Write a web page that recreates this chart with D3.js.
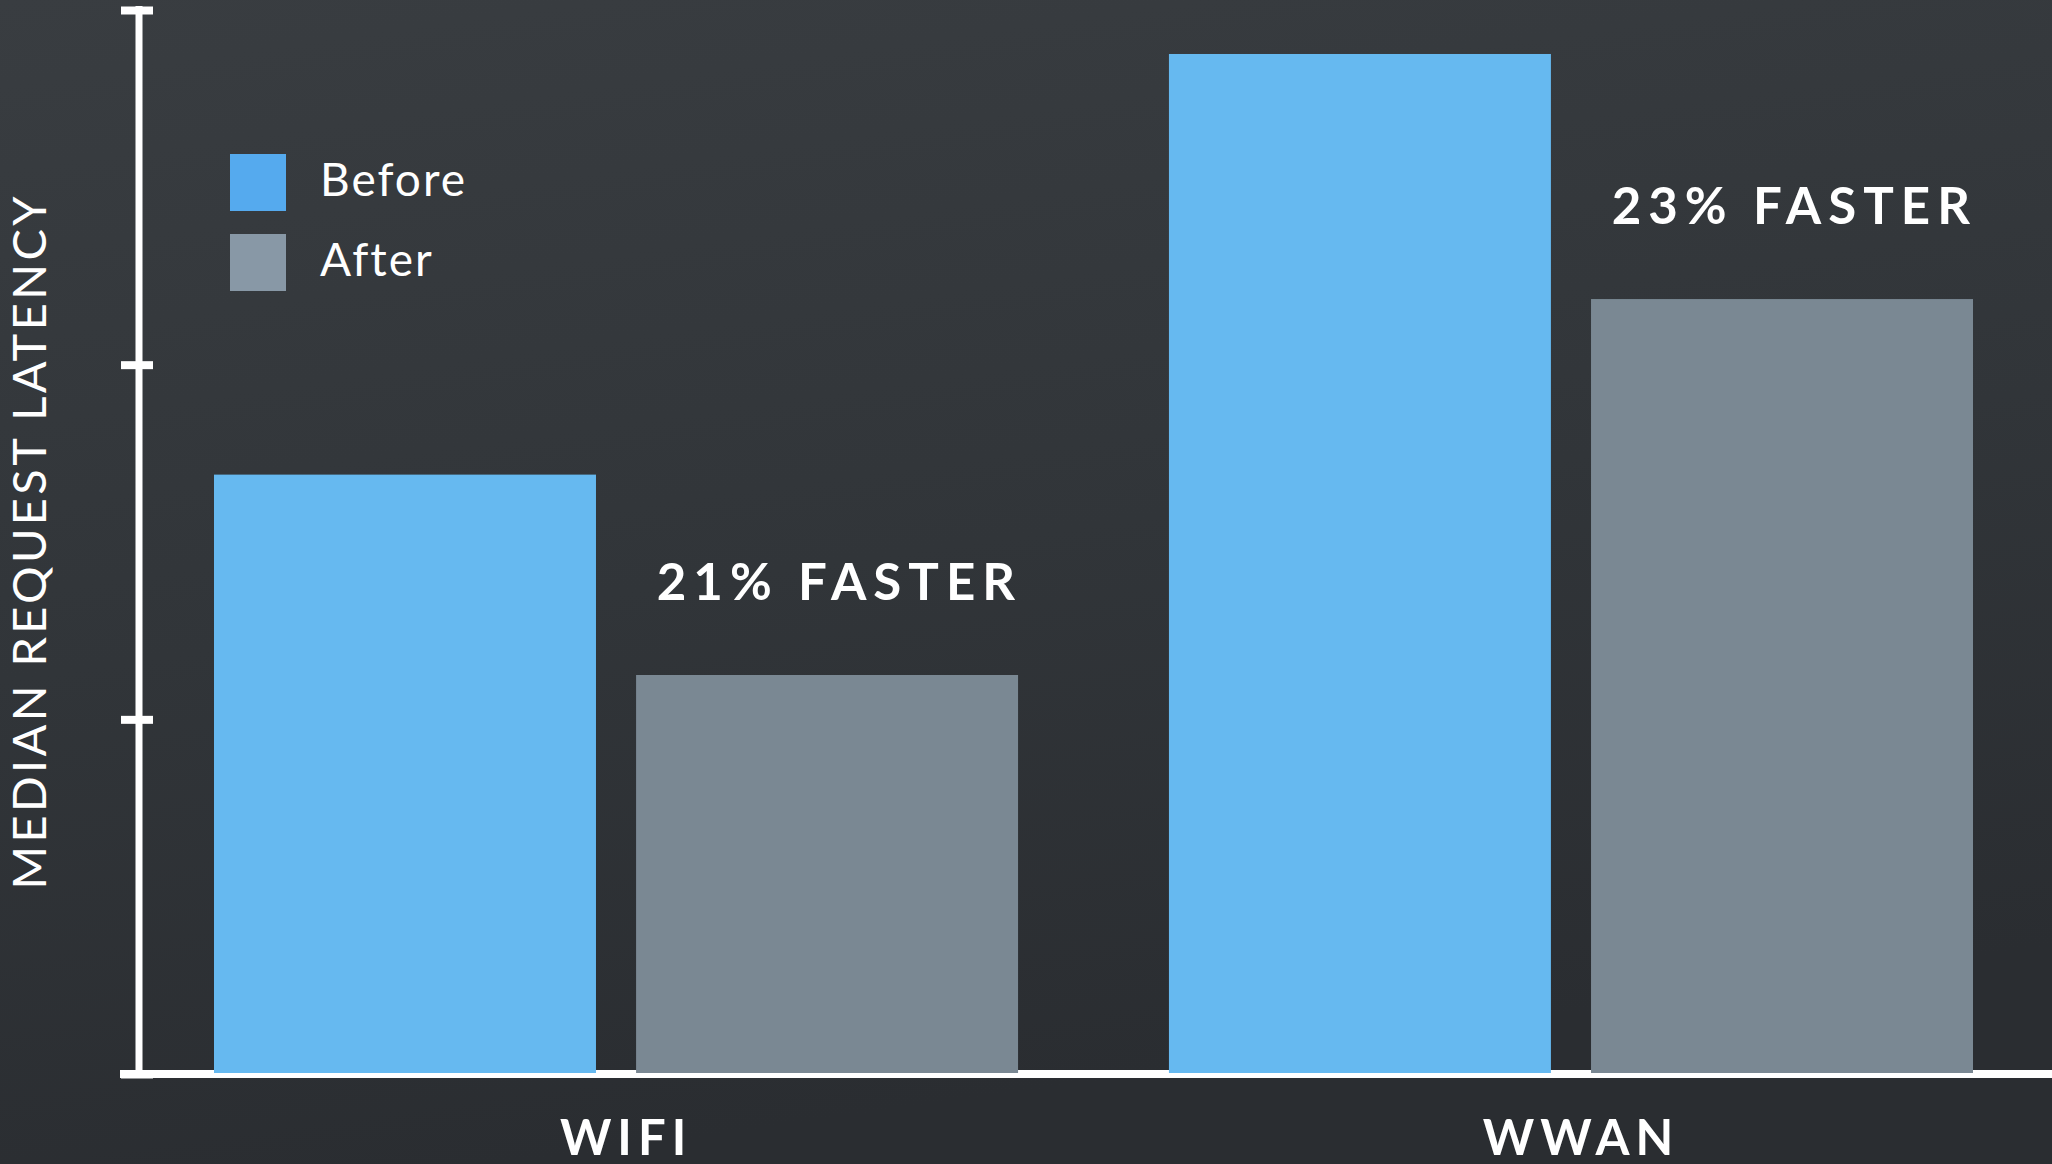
<!DOCTYPE html>
<html>
<head>
<meta charset="utf-8">
<script src="https://cdn.jsdelivr.net/npm/d3@7"></script>
<style>
  html, body { margin: 0; padding: 0; background: #2d3034; }
  svg { display: block; }
</style>
</head>
<body>
<svg id="chart"></svg>
<script>
// median request latency, before / after
const categories = ["WIFI", "WWAN"];
const series = ["Before", "After"];
const beforeValues = [1.69, 2.876];
const afterValues = [1.125, 2.185];
const gainLabels = ["21% FASTER", "23% FASTER"];
const yTicks = [0, 1, 2, 3];

const W = 2052, H = 1164;
const colors = { Before: "#66b9f0", After: "#7a8893" };
const legendColors = { Before: "#55aaee", After: "#8898a6" };
const font = "Lato, 'Open Sans', sans-serif";

const svg = d3.select("#chart").attr("width", W).attr("height", H);

const defs = svg.append("defs");
const bg = defs.append("linearGradient").attr("id", "bg")
  .attr("x1", 0).attr("y1", 0).attr("x2", 0.25).attr("y2", 1);
bg.append("stop").attr("offset", 0).attr("stop-color", "#393d41");
bg.append("stop").attr("offset", 0.55).attr("stop-color", "#313539");
bg.append("stop").attr("offset", 1).attr("stop-color", "#2a2d31");
svg.append("rect").attr("width", W).attr("height", H).attr("fill", "url(#bg)");

const rows = categories.map((c, i) => ({
  cat: c,
  gain: gainLabels[i],
  vals: [
    { key: "Before", value: beforeValues[i] },
    { key: "After", value: afterValues[i] },
  ],
}));

const x0 = d3.scaleBand().domain(categories).range([214, 1973]).paddingInner(0.158);
const x1 = d3.scaleBand().domain(series).range([0, x0.bandwidth()]).paddingInner(0.095);
const y = d3.scaleLinear().domain([0, 3]).range([1074, 10]);

// baseline
svg.append("line")
  .attr("x1", 120).attr("x2", W)
  .attr("y1", y(0)).attr("y2", y(0))
  .attr("stroke", "#ffffff").attr("stroke-width", 8);

// y axis, no labels, ticks crossing the line
const yAxis = svg.append("g")
  .attr("transform", "translate(139,0)")
  .call(d3.axisLeft(y).tickValues(yTicks).tickSize(0).tickFormat(""));
yAxis.select(".domain")
  .attr("d", `M0,${y(3) - 4}V${y(0) + 4}`)
  .attr("stroke", "#ffffff").attr("stroke-width", 7);
yAxis.selectAll(".tick line")
  .attr("x1", -18).attr("x2", 14)
  .attr("stroke", "#ffffff").attr("stroke-width", 8);

// bars
const group = svg.append("g").selectAll("g")
  .data(rows)
  .join("g")
  .attr("transform", (d) => `translate(${x0(d.cat)},0)`);

group.selectAll("rect")
  .data((d) => d.vals)
  .join("rect")
  .attr("x", (d) => x1(d.key))
  .attr("width", x1.bandwidth())
  .attr("y", (d) => y(d.value))
  .attr("height", (d) => y(0) - 1 - y(d.value))
  .attr("fill", (d) => colors[d.key]);

// "xx% FASTER" labels, sitting above the after bar, right aligned
group.append("text")
  .attr("x", x1("After") + x1.bandwidth() + 4)
  .attr("y", (d) => y(d.vals[1].value) - 75)
  .attr("text-anchor", "end")
  .attr("fill", "#ffffff")
  .attr("font-family", font)
  .attr("font-weight", 700)
  .attr("font-size", 51)
  .attr("letter-spacing", 7)
  .text((d) => d.gain);

// category labels
svg.append("g").selectAll("text")
  .data(categories)
  .join("text")
  .attr("x", (d) => x0(d) + x0.bandwidth() / 2 + 10)
  .attr("y", 1155)
  .attr("text-anchor", "middle")
  .attr("fill", "#ffffff")
  .attr("font-family", font)
  .attr("font-weight", 700)
  .attr("font-size", 49)
  .attr("letter-spacing", 6)
  .text((d) => d);

// y axis title
svg.append("text")
  .attr("transform", "translate(46,543) rotate(-90)")
  .attr("text-anchor", "middle")
  .attr("fill", "#ffffff")
  .attr("font-family", font)
  .attr("font-weight", 400)
  .attr("font-size", 47)
  .attr("textLength", 693)
  .attr("lengthAdjust", "spacing")
  .text("MEDIAN REQUEST LATENCY");

// legend
const legend = svg.append("g").attr("transform", "translate(230,154)");
const item = legend.selectAll("g")
  .data(series)
  .join("g")
  .attr("transform", (d, i) => `translate(0,${i * 80})`);
item.append("rect")
  .attr("width", 56).attr("height", 57)
  .attr("fill", (d) => legendColors[d]);
item.append("text")
  .attr("x", 90).attr("y", 42)
  .attr("fill", "#ffffff")
  .attr("font-family", font)
  .attr("font-weight", 400)
  .attr("font-size", 46)
  .attr("letter-spacing", 2)
  .text((d) => d);
</script>
</body>
</html>
